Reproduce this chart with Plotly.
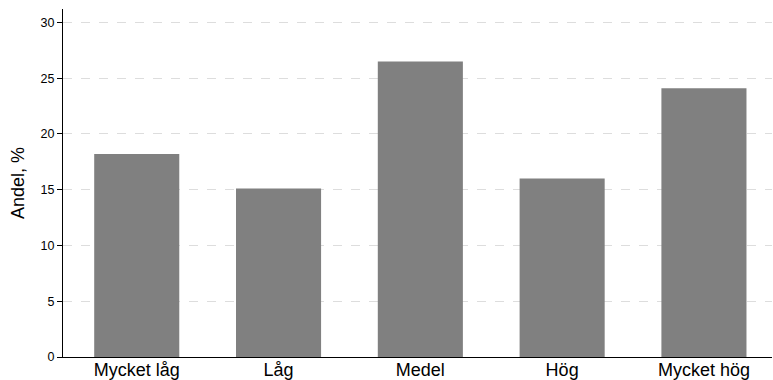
import plotly.graph_objects as go

categories = ["Mycket låg", "Låg", "Medel", "Hög", "Mycket hög"]
values = [18.2, 15.1, 26.5, 16.0, 24.1]
y_ticks = [0, 5, 10, 15, 20, 25, 30]

fig = go.Figure(go.Bar(
    x=categories, y=values,
    marker=dict(color="#808080", line=dict(width=0)),
    width=0.6,
))

fig.update_layout(
    width=773, height=380,
    margin=dict(l=63, r=1, t=9, b=23),
    plot_bgcolor="white", paper_bgcolor="white",
    font=dict(family="Liberation Sans, Arial, sans-serif", color="black"),
    showlegend=False,
    bargap=0.4,
)
fig.update_xaxes(
    range=[-0.52, 4.48],
    showline=True, linecolor="black", linewidth=1,
    ticks="", showgrid=False,
    tickfont=dict(size=18),
    automargin=False,
    ticklabelstandoff=-4,
)
fig.update_yaxes(
    range=[0, 31.2],
    tickvals=y_ticks,
    showline=True, linecolor="black", linewidth=1,
    ticks="outside", ticklen=5, tickcolor="black",
    tickfont=dict(size=12.5),
    showgrid=True, gridcolor="#dddddd", griddash="dash", gridwidth=1,
    zeroline=False,
    automargin=False,
    title=dict(text="Andel, %", font=dict(size=18), standoff=11),
)

fig.write_html(
    "out.html",
    config={"displayModeBar": False},
    post_script="document.body.style.margin='0';document.body.style.overflow='hidden';",
)
